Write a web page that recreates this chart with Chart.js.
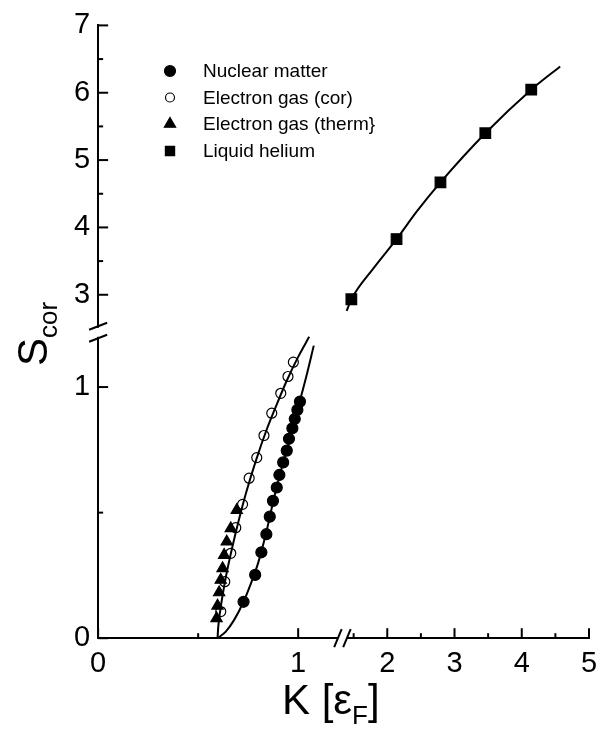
<!DOCTYPE html>
<html>
<head>
<meta charset="utf-8">
<script src="https://cdn.jsdelivr.net/npm/chart.js@4.4.0/dist/chart.umd.min.js"></script>
<style>
  html, body { margin: 0; padding: 0; background: #fff; }
  #wrap { width: 601px; height: 745px; }
</style>
</head>
<body>
<div id="wrap"><canvas id="chart"></canvas></div>
<script>
// ---- data ----
const nuclearK = [0.727, 0.785, 0.816, 0.841, 0.858, 0.874, 0.893, 0.906, 0.925, 0.943, 0.954, 0.971, 0.983, 0.996, 1.009];
const nuclearS = [0.145, 0.252, 0.342, 0.414, 0.484, 0.547, 0.600, 0.650, 0.700, 0.747, 0.794, 0.836, 0.873, 0.909, 0.942];

const corK = [0.613, 0.633, 0.663, 0.688, 0.722, 0.755, 0.793, 0.829, 0.868, 0.913, 0.949, 0.976];
const corS = [0.106, 0.225, 0.338, 0.440, 0.533, 0.637, 0.719, 0.807, 0.896, 0.975, 1.042, 1.099];

const thermK = [0.592, 0.597, 0.605, 0.613, 0.622, 0.630, 0.643, 0.663, 0.693];
const thermS = [0.079, 0.129, 0.182, 0.232, 0.278, 0.331, 0.384, 0.437, 0.510];

const heliumK = [1.466, 2.138, 2.791, 3.458, 4.141];
const heliumS = [2.933, 3.826, 4.670, 5.399, 6.046];

// fitted curves
const nucFitK = [0.597, 0.638, 0.680, 0.727, 0.760, 0.800, 0.840, 0.880, 0.920, 0.960, 1.000, 1.040, 1.078];
const nucFitS = [0.000, 0.026, 0.073, 0.145, 0.210, 0.300, 0.420, 0.560, 0.685, 0.800, 0.920, 1.040, 1.165];

const eFitK = [0.597, 0.600, 0.607, 0.620, 0.640, 0.670, 0.700, 0.740, 0.790, 0.840, 0.890, 0.940, 1.000, 1.055];
const eFitS = [0.000, 0.040, 0.090, 0.160, 0.250, 0.360, 0.460, 0.580, 0.710, 0.825, 0.925, 1.020, 1.120, 1.200];

const heFitK = [1.396, 1.466, 1.800, 2.138, 2.445, 2.791, 3.458, 4.141, 4.571];
const heFitS = [2.760, 2.933, 3.400, 3.826, 4.245, 4.670, 5.399, 6.046, 6.390];

// axis ticks (integers get labels, halves are minor)
const xLeftTicks = [0, 0.5, 1];
const xRightTicks = [1.5, 2, 2.5, 3, 3.5, 4, 4.5, 5];
const yLowTicks = [0, 0.5, 1];
const yHighTicks = [3, 3.5, 4, 4.5, 5, 5.5, 6, 6.5, 7];

const legendLabels = ["Nuclear matter", "Electron gas (cor)", "Electron gas (therm}", "Liquid helium"];

const FONT = '"Liberation Sans", Arial, sans-serif';

function pts(xs, ys) {
  return xs.map((x, i) => ({ x, y: ys[i] }));
}

function axis(min, max, ticks, extra) {
  return Object.assign({
    type: "linear",
    min, max,
    afterBuildTicks: (s) => { s.ticks = ticks.map((v) => ({ value: v })); },
    grid: { display: false, drawTicks: false },
    border: { display: true, color: "#000", width: 2 },
    ticks: {
      color: "#000",
      font: { family: FONT, size: 29 },
      padding: 8,
      autoSkip: false,
      maxRotation: 0,
      callback: (v) => (Number.isInteger(v) ? String(v) : ""),
    },
  }, extra);
}

const lineDs = (xs, ys, xAxisID, yAxisID) => ({
  data: pts(xs, ys),
  xAxisID, yAxisID,
  showLine: true,
  borderColor: "#000",
  borderWidth: 2,
  pointRadius: 0,
  cubicInterpolationMode: "monotone",
  fill: false,
});

const markDs = (xs, ys, xAxisID, yAxisID, style, radius, filled) => ({
  data: pts(xs, ys),
  xAxisID, yAxisID,
  showLine: false,
  pointStyle: style,
  pointRadius: radius,
  pointBorderWidth: 1.2,
  pointBorderColor: "#000",
  pointBackgroundColor: filled ? "#000" : "rgba(0,0,0,0)",
});

const decorations = {
  id: "decorations",
  afterDraw(chart) {
    const ctx = chart.ctx;
    const { xLeft, xRight, yLow, yHigh } = chart.scales;
    const axisY = xLeft.top;
    const axisX = yLow.right;
    ctx.save();
    ctx.strokeStyle = "#000";
    ctx.lineWidth = 2;
    ctx.lineCap = "butt";
    const seg = (x1, y1, x2, y2) => { ctx.beginPath(); ctx.moveTo(x1, y1); ctx.lineTo(x2, y2); ctx.stroke(); };

    // inward tick marks
    [[xLeft, xLeftTicks], [xRight, xRightTicks]].forEach(([s, vals]) => {
      vals.forEach((v) => {
        const px = s.getPixelForValue(v);
        seg(px, axisY, px, axisY - (Number.isInteger(v) ? 10 : 5));
      });
    });
    [[yLow, yLowTicks], [yHigh, yHighTicks]].forEach(([s, vals]) => {
      vals.forEach((v) => {
        const py = s.getPixelForValue(v);
        seg(axisX, py, axisX + (Number.isInteger(v) ? 10 : 5), py);
      });
    });

    // axis breaks
    const bx = xLeft.right;
    ctx.fillStyle = "#fff";
    ctx.fillRect(bx, axisY - 3, 9, 6);
    seg(bx - 4, axisY + 9, bx + 3.5, axisY - 9);
    seg(bx + 5, axisY + 9, bx + 12.5, axisY - 9);

    const by = yHigh.bottom;
    ctx.fillRect(axisX - 3, by - 4, 6, 9);
    seg(axisX - 9, by - 2, axisX + 9, by - 9);
    seg(axisX - 9, by + 10, axisX + 9, by + 3);

    // legend
    const rowY = [71, 97.5, 124, 151];
    const styles = [["circle", 5.5, true], ["circle", 4.5, false], ["triangle", 6.5, true], ["rect", 6.5, true]];
    ctx.font = "19px " + FONT;
    ctx.textBaseline = "middle";
    ctx.textAlign = "left";
    legendLabels.forEach((label, i) => {
      const [style, r, filled] = styles[i];
      ctx.fillStyle = filled ? "#000" : "rgba(0,0,0,0)";
      ctx.strokeStyle = "#000";
      ctx.lineWidth = 1.2;
      Chart.helpers.drawPoint(ctx, { pointStyle: style, radius: r, borderWidth: 1.2 }, 170, rowY[i]);
      ctx.fillStyle = "#000";
      ctx.fillText(label, 203, rowY[i] + 1);
    });

    // x title: K [εF]
    ctx.fillStyle = "#000";
    ctx.textBaseline = "alphabetic";
    ctx.font = "42px " + FONT;
    let x = 282, y = 714;
    ctx.fillText("K [ε", x, y);
    x += ctx.measureText("K [ε").width;
    ctx.font = "26px " + FONT;
    ctx.fillText("F", x, y + 10);
    x += ctx.measureText("F").width;
    ctx.font = "42px " + FONT;
    ctx.fillText("]", x, y);

    // y title: S_cor
    ctx.save();
    ctx.translate(47, 366);
    ctx.rotate(-Math.PI / 2);
    ctx.font = "42px " + FONT;
    ctx.fillText("S", 0, 0);
    const w = ctx.measureText("S").width;
    ctx.font = "26px " + FONT;
    ctx.fillText("cor", w, 10);
    ctx.restore();

    ctx.restore();
  },
};

new Chart(document.getElementById("chart"), {
  type: "scatter",
  data: {
    datasets: [
      lineDs(nucFitK, nucFitS, "xLeft", "yLow"),
      lineDs(eFitK, eFitS, "xLeft", "yLow"),
      lineDs(heFitK, heFitS, "xRight", "yHigh"),
      markDs(nuclearK, nuclearS, "xLeft", "yLow", "circle", 5.5, true),
      markDs(corK, corS, "xLeft", "yLow", "circle", 5, false),
      markDs(thermK, thermS, "xLeft", "yLow", "triangle", 6.5, true),
      markDs(heliumK, heliumS, "xRight", "yHigh", "rect", 7.5, true),
    ],
  },
  options: {
    responsive: true,
    maintainAspectRatio: false,
    animation: false,
    layout: { padding: { left: 66, right: 12, top: 23, bottom: 56 } },
    plugins: { legend: { display: false }, tooltip: { enabled: false } },
    scales: {
      xLeft: axis(0, 1.2, xLeftTicks, { position: "bottom", stack: "x", stackWeight: 240.6, weight: 0 }),
      xRight: axis(1.27, 5, xRightTicks, {
        position: "bottom", stack: "x", stackWeight: 251.4, weight: 1,
        afterFit: (s) => { s.paddingRight = 0; },
      }),
      yHigh: axis(2.45, 7, yHighTicks, { position: "left", stack: "y", stackWeight: 1, weight: 1 }),
      yLow: axis(0, 1.22, yLowTicks, { position: "left", stack: "y", stackWeight: 1, weight: 0 }),
    },
  },
  plugins: [decorations],
});
</script>
</body>
</html>
